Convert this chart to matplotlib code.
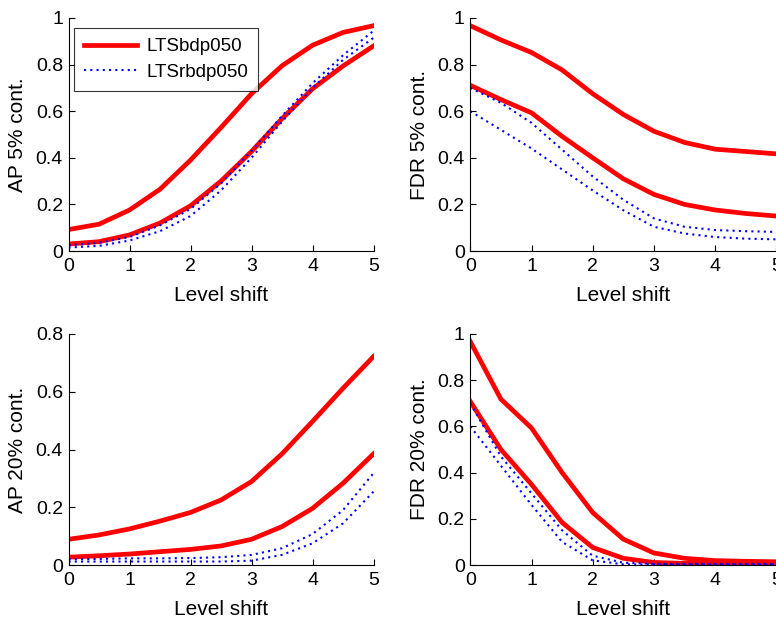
import matplotlib
matplotlib.use("Agg")
import matplotlib.pyplot as plt
from matplotlib.ticker import FuncFormatter

plt.rcParams['font.family'] = ['Liberation Sans', 'DejaVu Sans']

shift = [0, 0.5, 1, 1.5, 2, 2.5, 3, 3.5, 4, 4.5, 5]

# AP 5% contamination
ap5_red_hi = [0.092, 0.115, 0.176, 0.265, 0.39, 0.53, 0.675, 0.795, 0.883, 0.938, 0.967]
ap5_red_lo = [0.03, 0.04, 0.069, 0.12, 0.194, 0.30, 0.427, 0.568, 0.696, 0.794, 0.88]
ap5_blue_hi = [0.025, 0.035, 0.06, 0.11, 0.18, 0.29, 0.43, 0.58, 0.72, 0.84, 0.945]
ap5_blue_lo = [0.015, 0.022, 0.045, 0.085, 0.15, 0.26, 0.40, 0.555, 0.70, 0.82, 0.915]

# FDR 5% contamination
fdr5_red_hi = [0.967, 0.906, 0.852, 0.777, 0.675, 0.586, 0.514, 0.466, 0.437, 0.427, 0.417]
fdr5_red_lo = [0.711, 0.65, 0.593, 0.492, 0.40, 0.31, 0.243, 0.20, 0.176, 0.161, 0.15]
fdr5_blue_hi = [0.70, 0.636, 0.55, 0.435, 0.32, 0.22, 0.14, 0.104, 0.09, 0.085, 0.082]
fdr5_blue_lo = [0.60, 0.52, 0.44, 0.35, 0.26, 0.175, 0.104, 0.075, 0.06, 0.053, 0.05]

# AP 20% contamination
ap20_red_hi = [0.089, 0.104, 0.125, 0.152, 0.182, 0.225, 0.289, 0.385, 0.497, 0.612, 0.722]
ap20_red_lo = [0.027, 0.032, 0.038, 0.046, 0.054, 0.066, 0.089, 0.133, 0.196, 0.283, 0.385]
ap20_blue_hi = [0.02, 0.021, 0.023, 0.023, 0.024, 0.027, 0.035, 0.058, 0.107, 0.19, 0.318]
ap20_blue_lo = [0.012, 0.012, 0.012, 0.012, 0.012, 0.012, 0.015, 0.035, 0.075, 0.144, 0.254]

# FDR 20% contamination
fdr20_red_hi = [0.967, 0.718, 0.593, 0.40, 0.227, 0.112, 0.052, 0.029, 0.019, 0.016, 0.014]
fdr20_red_lo = [0.708, 0.50, 0.349, 0.184, 0.076, 0.029, 0.011, 0.007, 0.007, 0.007, 0.007]
fdr20_blue_hi = [0.70, 0.47, 0.31, 0.15, 0.04, 0.01, 0.005, 0.005, 0.005, 0.005, 0.005]
fdr20_blue_lo = [0.60, 0.43, 0.26, 0.10, 0.02, 0.003, 0.002, 0.002, 0.002, 0.002, 0.002]

xticks = [0, 1, 2, 3, 4, 5]
legend_labels = ["LTSbdp050", "LTSrbdp050"]

panels = [
    ("AP 5% cont.", ap5_red_hi, ap5_red_lo, ap5_blue_hi, ap5_blue_lo, 1.0, [0, 0.2, 0.4, 0.6, 0.8, 1]),
    ("FDR 5% cont.", fdr5_red_hi, fdr5_red_lo, fdr5_blue_hi, fdr5_blue_lo, 1.0, [0, 0.2, 0.4, 0.6, 0.8, 1]),
    ("AP 20% cont.", ap20_red_hi, ap20_red_lo, ap20_blue_hi, ap20_blue_lo, 0.8, [0, 0.2, 0.4, 0.6, 0.8]),
    ("FDR 20% cont.", fdr20_red_hi, fdr20_red_lo, fdr20_blue_hi, fdr20_blue_lo, 1.0, [0, 0.2, 0.4, 0.6, 0.8, 1]),
]

W, H = 776, 619
fig = plt.figure(figsize=(W / 100, H / 100), dpi=100)

positions = [
    (68.5, 18, 305, 233),
    (470.3, 18, 306, 233),
    (68.5, 334, 305, 231),
    (470.3, 334, 306, 231),
]

fmt = FuncFormatter(lambda v, p: "%g" % round(v, 3))

for i, (ylabel, rh, rl, bh, bl, ymax, yticks) in enumerate(panels):
    px, py, pw, ph = positions[i]
    ax = fig.add_axes([px / W, (H - py - ph) / H, pw / W, ph / H])
    ax.plot(shift, rh, color="red", lw=3.4, solid_joinstyle="miter", label=legend_labels[0])
    ax.plot(shift, rl, color="red", lw=3.4, solid_joinstyle="miter")
    ax.plot(shift, bh, color="blue", lw=1.5, ls=(0, (1, 2.0)), label=legend_labels[1])
    ax.plot(shift, bl, color="blue", lw=1.5, ls=(0, (1, 2.0)))
    ax.set_xlim(0, 5)
    ax.set_ylim(0, ymax)
    ax.set_xticks(xticks)
    ax.set_yticks(yticks)
    ax.xaxis.set_major_formatter(fmt)
    ax.yaxis.set_major_formatter(fmt)
    ax.spines["top"].set_visible(False)
    ax.spines["right"].set_visible(False)
    ax.spines["left"].set_linewidth(0.8)
    ax.spines["bottom"].set_linewidth(0.8)
    ax.tick_params(direction="in", length=4, width=0.8, labelsize=14, pad=4)
    ax.tick_params(axis="x", pad=5)
    ax.set_xlabel("Level shift", fontsize=15, labelpad=8)
    ax.set_ylabel(ylabel, fontsize=15, labelpad=6)
    if i == 0:
        leg = ax.legend(loc="upper left", bbox_to_anchor=(0.018, 0.957), fontsize=13.5,
                        frameon=True, fancybox=False, edgecolor="black",
                        handlelength=2.8, borderpad=0.55, labelspacing=0.45,
                        handletextpad=0.5, borderaxespad=0)
        leg.get_frame().set_linewidth(0.8)

fig.savefig("out.png", dpi=100)
